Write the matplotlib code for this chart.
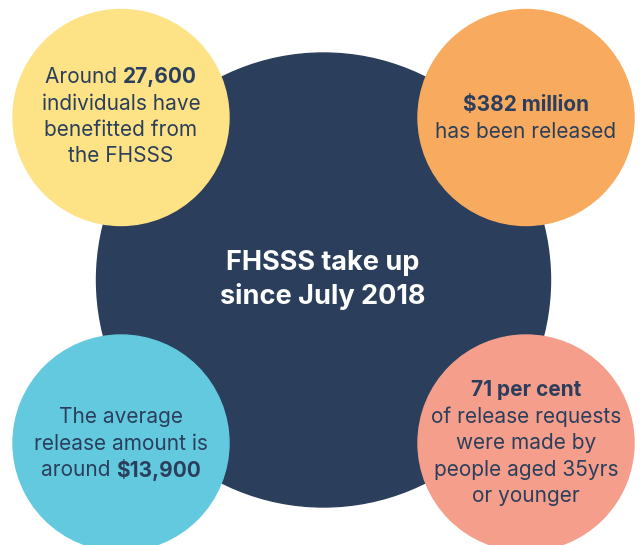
import matplotlib.pyplot as plt
from matplotlib.patches import Circle

# text content of the infographic
title_lines = ["FHSSS take up", "since July 2018"]

# each bubble: list of lines, each line a list of (text, is_bold) pieces
yellow_lines = [[("Around ", False), ("27,600", True)],
                [("individuals have", False)],
                [("benefitted from", False)],
                [("the FHSSS", False)]]
orange_lines = [[("$382 million", True)],
                [("has been released", False)]]
blue_lines = [[("The average", False)],
              [("release amount is", False)],
              [("around ", False), ("$13,900", True)]]
salmon_lines = [[("71 per cent", True)],
                [("of release requests", False)],
                [("were made by", False)],
                [("people aged 35yrs", False)],
                [("or younger", False)]]

navy = "#2b3f5c"
font = "Inter"


def mixed_line(ax, renderer, x, y, pieces, size, color):
    # draw once to measure, then shift so the whole line is centred on x
    texts = []
    for txt, bold in pieces:
        t = ax.text(0, y, txt, fontsize=size, color=color, family=font,
                    fontweight="bold" if bold else "normal",
                    ha="left", va="center")
        texts.append(t)
    inv = ax.transData.inverted()
    widths = []
    for t in texts:
        bb = t.get_window_extent(renderer=renderer)
        x0 = inv.transform((bb.x0, bb.y0))[0]
        x1 = inv.transform((bb.x1, bb.y0))[0]
        widths.append(x1 - x0)
    cur = x - sum(widths) / 2
    for t, w in zip(texts, widths):
        t.set_x(cur)
        cur += w


def bubble_text(ax, renderer, cx, y0, lines, step=26.5, size=15):
    for i, line in enumerate(lines):
        mixed_line(ax, renderer, cx, y0 + i * step, line, size, navy)


def main():
    fig = plt.figure(figsize=(6.4, 5.45), dpi=100)
    ax = fig.add_axes([0, 0, 1, 1])
    ax.set_xlim(0, 640)
    ax.set_ylim(545, 0)
    ax.axis("off")

    ax.add_patch(Circle((323.5, 280), 227, color="#2b3f5c", zorder=1))
    ax.add_patch(Circle((121, 117.5), 108, color="#fde386", zorder=2))
    ax.add_patch(Circle((526, 117.5), 108, color="#f8aa5e", zorder=2))
    ax.add_patch(Circle((121, 443), 108, color="#63c9df", zorder=2))
    ax.add_patch(Circle((526, 443), 108, color="#f59e8b", zorder=2))

    for i, line in enumerate(title_lines):
        ax.text(323, 263 + i * 34, line, fontsize=19.5, fontweight="bold",
                color="white", family=font, ha="center", va="center")

    fig.canvas.draw()
    renderer = fig.canvas.get_renderer()
    bubble_text(ax, renderer, 121, 77, yellow_lines)
    bubble_text(ax, renderer, 526, 105, orange_lines)
    bubble_text(ax, renderer, 121, 417, blue_lines)
    bubble_text(ax, renderer, 526, 390, salmon_lines)

    fig.savefig("out.png", dpi=100)


if __name__ == '__main__':
    main()
